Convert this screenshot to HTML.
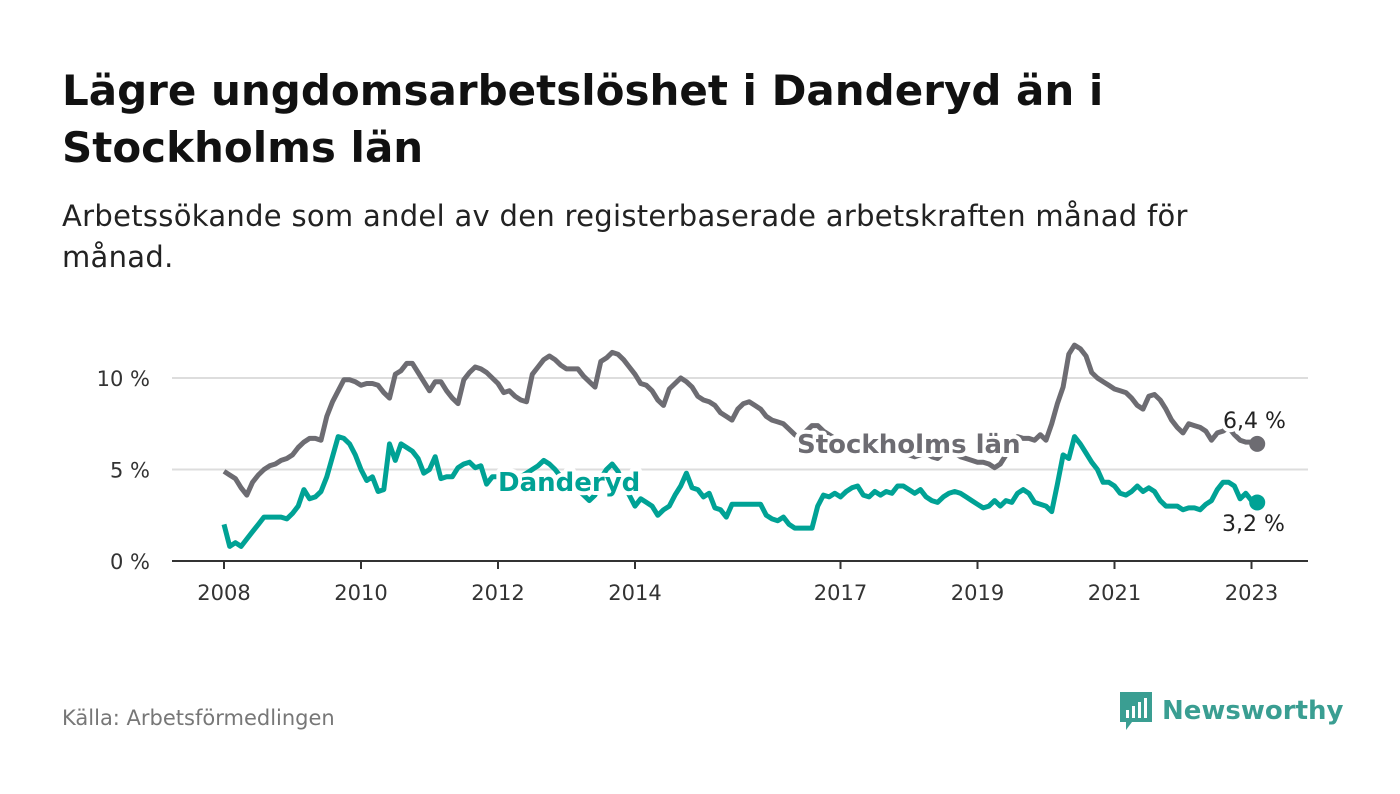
<!DOCTYPE html>
<html><head><meta charset="utf-8"><style>
body{margin:0;width:1400px;height:794px;background:#fff;font-family:"DejaVu Sans","Liberation Sans",sans-serif;overflow:hidden;position:relative}
.t{position:absolute;left:62px;top:62px;font-size:42px;font-weight:bold;color:#111;line-height:57px;margin:0;white-space:nowrap}
.s{position:absolute;left:62px;top:196px;font-size:29px;letter-spacing:0.3px;color:#222;line-height:41px;white-space:nowrap}
.src{position:absolute;left:62px;top:706px;font-size:21px;color:#777}
.logo{position:absolute;left:1118px;top:690px;display:flex;align-items:center;gap:8px;color:#3a9e92;font-size:26px;font-weight:bold}
</style></head><body>
<h1 class="t">Lägre ungdomsarbetslöshet i Danderyd än i<br>Stockholms län</h1>
<div class="s">Arbetssökande som andel av den registerbaserade arbetskraften månad för<br>månad.</div>
<div class="src">Källa: Arbetsförmedlingen</div>
<div class="logo"><svg width="36" height="42" viewBox="0 0 36 42"><path d="M2 2h32v30H14l-6 8v-8H2z" fill="#3a9e92"/><rect x="8" y="20" width="3" height="8" fill="#fff"/><rect x="14" y="16" width="3" height="12" fill="#fff"/><rect x="20" y="12" width="3" height="16" fill="#fff"/><rect x="26" y="8" width="3" height="20" fill="#fff"/></svg><span>Newsworthy</span></div>
<svg id="c" width="1400" height="794" style="position:absolute;left:0;top:0"></svg>
<script>
const yTicks=[0,5,10];
const yTickLabels=["0 %","5 %","10 %"];
const xTickYears=[2008,2010,2012,2014,2017,2019,2021,2023];
const stockholm=[4.9,4.7,4.5,4.0,3.6,4.3,4.7,5.0,5.2,5.3,5.5,5.6,
5.8,6.2,6.5,6.7,6.7,6.6,7.9,8.7,9.3,9.9,9.9,9.8,
9.6,9.7,9.7,9.6,9.2,8.9,10.2,10.4,10.8,10.8,10.3,9.8,
9.3,9.8,9.8,9.3,8.9,8.6,9.9,10.3,10.6,10.5,10.3,10.0,
9.7,9.2,9.3,9.0,8.8,8.7,10.2,10.6,11.0,11.2,11.0,10.7,
10.5,10.5,10.5,10.1,9.8,9.5,10.9,11.1,11.4,11.3,11.0,10.6,
10.2,9.7,9.6,9.3,8.8,8.5,9.4,9.7,10.0,9.8,9.5,9.0,
8.8,8.7,8.5,8.1,7.9,7.7,8.3,8.6,8.7,8.5,8.3,7.9,
7.7,7.6,7.5,7.2,6.9,6.7,7.1,7.4,7.4,7.1,6.9,6.7,
6.6,6.5,6.4,6.3,6.2,6.0,6.3,6.5,6.4,6.2,6.0,5.9,
5.8,5.7,5.8,5.9,5.7,5.6,5.9,6.0,5.9,5.7,5.6,5.5,
5.4,5.4,5.3,5.1,5.3,5.8,6.4,6.8,6.7,6.7,6.6,6.9,
6.6,7.5,8.6,9.5,11.3,11.8,11.6,11.2,10.3,10.0,9.8,9.6,
9.4,9.3,9.2,8.9,8.5,8.3,9.0,9.1,8.8,8.3,7.7,7.3,
7.0,7.5,7.4,7.3,7.1,6.6,7.0,7.1,7.3,6.9,6.6,6.5,
6.5,6.4];
const danderyd=[2.0,0.8,1.0,0.8,1.2,1.6,2.0,2.4,2.4,2.4,2.4,2.3,
2.6,3.0,3.9,3.4,3.5,3.8,4.6,5.7,6.8,6.7,6.4,5.8,
5.0,4.4,4.6,3.8,3.9,6.4,5.5,6.4,6.2,6.0,5.6,4.8,
5.0,5.7,4.5,4.6,4.6,5.1,5.3,5.4,5.1,5.2,4.2,4.6,
4.6,4.7,4.8,4.7,4.6,4.8,5.0,5.2,5.5,5.3,5.0,4.6,
4.3,4.2,3.9,3.6,3.3,3.6,4.5,5.0,5.3,4.9,4.2,3.6,
3.0,3.4,3.2,3.0,2.5,2.8,3.0,3.6,4.1,4.8,4.0,3.9,
3.5,3.7,2.9,2.8,2.4,3.1,3.1,3.1,3.1,3.1,3.1,2.5,
2.3,2.2,2.4,2.0,1.8,1.8,1.8,1.8,3.0,3.6,3.5,3.7,
3.5,3.8,4.0,4.1,3.6,3.5,3.8,3.6,3.8,3.7,4.1,4.1,
3.9,3.7,3.9,3.5,3.3,3.2,3.5,3.7,3.8,3.7,3.5,3.3,
3.1,2.9,3.0,3.3,3.0,3.3,3.2,3.7,3.9,3.7,3.2,3.1,
3.0,2.7,4.2,5.8,5.6,6.8,6.4,5.9,5.4,5.0,4.3,4.3,
4.1,3.7,3.6,3.8,4.1,3.8,4.0,3.8,3.3,3.0,3.0,3.0,
2.8,2.9,2.9,2.8,3.1,3.3,3.9,4.3,4.3,4.1,3.4,3.7,
3.3,3.2];
const NS="http://www.w3.org/2000/svg";
const svg=document.getElementById('c');
const X=m=>224+m/12*68.5, Y=v=>561-v*18.3;
function el(t,a,p){const e=document.createElementNS(NS,t);for(const k in a)e.setAttribute(k,a[k]);(p||svg).appendChild(e);return e;}
yTicks.forEach((v,i)=>{
 if(v>0){const g=el('line',{x1:172,x2:1308,y1:Y(v),y2:Y(v),stroke:'#ddd','stroke-width':2});
 
 }
 const t=el('text',{x:150,y:Y(v)+8,'text-anchor':'end','font-size':21,fill:'#333'});t.textContent=yTickLabels[i];
 
 
});
const b=el('line',{x1:172,x2:1308,y1:561,y2:561,stroke:'#333','stroke-width':2});


xTickYears.forEach(yr=>{
 const x=X((yr-2008)*12);
 el('line',{x1:x,x2:x,y1:561,y2:569,stroke:'#333','stroke-width':2});
 const t=el('text',{x:x,y:600,'text-anchor':'middle','font-size':21,fill:'#333'});t.textContent=yr;
 
 
});
function line(d,col,name){
 const p=el('path',{d:d.map((v,i)=>(i?'L':'M')+X(i).toFixed(1)+','+Y(v).toFixed(1)).join(''),fill:'none',stroke:col,'stroke-width':5,'stroke-linejoin':'round'});
 
 
 const n=d.length-1;
 const c=el('circle',{cx:X(n),cy:Y(d[n]),r:8,fill:col});
 
 
}
line(stockholm,'#6d6c72','stockholm-line');
line(danderyd,'#00a295','danderyd-line');
function lab(txt,x,y,col,bold,name,halo,fs){
 const t=el('text',{x:x,y:y,'font-size':fs,'font-weight':bold?'bold':'normal',fill:col,stroke:halo?'#fff':'none','stroke-width':halo?8:0,'paint-order':'stroke','stroke-linejoin':'round'});
 t.textContent=txt;
 
 
}
lab('Danderyd',498,491,'#00a295',true,'danderyd-label',true,26);
lab('Stockholms län',797,453,'#6d6c72',true,'stockholm-label',true,26);
lab('6,4 %',1223,428,'#222',false,'stockholm-end-value',true,22);
lab('3,2 %',1222,531,'#222',false,'danderyd-end-value',true,22);
</script>
</body></html>
